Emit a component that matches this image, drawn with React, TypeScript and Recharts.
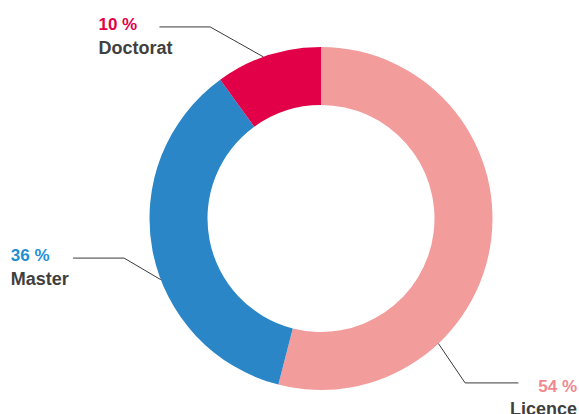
import React from "react";
import { PieChart, Pie, Cell } from "recharts";

const categories = ["Licence", "Master", "Doctorat"];
const shares = [54, 36, 10];
const percentLabels = ["54 %", "36 %", "10 %"];

const sliceColors = ["#F29C9B", "#2A86C7", "#E20048"];
const labelColors = ["#F08A8E", "#1E8ED3", "#E20048"];

// label leader layout (angle at outer edge, elbow offset, horizontal length, text placement)
const labelLayout = [
  { angle: -46.8, ex: 26.7, ey: 39.4, hx: 53.3, anchor: "end", tx: 58.7, py: 9, ny: 32.5 },
  { angle: 200.9, ex: -36.7, ey: -21.6, hx: -51, anchor: "start", tx: -62.3, py: 2.5, ny: 26.6 },
  { angle: 109.6, ex: -53.3, ey: -30, hx: -50.7, anchor: "start", tx: -61, py: 3.4, ny: 26.8 },
];

const data = categories.map((name, i) => ({ name, value: shares[i], pct: percentLabels[i] }));

const RADIAN = Math.PI / 180;
const font = "'Liberation Sans', Arial, Helvetica, sans-serif";

const renderLabel = (props: any) => {
  const { cx, cy, outerRadius, index } = props;
  const L = labelLayout[index];
  const sx = cx + outerRadius * Math.cos(L.angle * RADIAN);
  const sy = cy - outerRadius * Math.sin(L.angle * RADIAN);
  const mx = sx + L.ex;
  const my = sy + L.ey;
  const exx = mx + L.hx;
  const tx = exx + L.tx;
  return (
    <g key={`lbl-${index}`}>
      <polyline
        points={`${sx},${sy} ${mx},${my} ${exx},${my}`}
        fill="none"
        stroke="#3a3a3a"
        strokeWidth={1}
      />
      <text
        x={tx}
        y={my + L.py}
        textAnchor={L.anchor as any}
        fill={labelColors[index]}
        fontFamily={font}
        fontWeight={700}
        fontSize={17}
      >
        {percentLabels[index]}
      </text>
      <text
        x={tx}
        y={my + L.ny}
        textAnchor={L.anchor as any}
        fill="#3f3f3f"
        fontFamily={font}
        fontWeight={700}
        fontSize={18}
      >
        {categories[index]}
      </text>
    </g>
  );
};

export default function App() {
  return (
    <div style={{ position: "absolute", left: 0, top: 0, width: 579, height: 414, background: "#fff" }}>
      <PieChart width={579} height={414} margin={{ top: 0, right: 0, bottom: 0, left: 0 }}>
        <Pie
          data={data}
          dataKey="value"
          nameKey="name"
          cx={321}
          cy={218.5}
          innerRadius={113.5}
          outerRadius={171.5}
          startAngle={90}
          endAngle={-270}
          stroke="none"
          label={renderLabel}
          labelLine={false}
          isAnimationActive={false}
        >
          {data.map((d, i) => (
            <Cell key={d.name} fill={sliceColors[i]} />
          ))}
        </Pie>
      </PieChart>
    </div>
  );
}
